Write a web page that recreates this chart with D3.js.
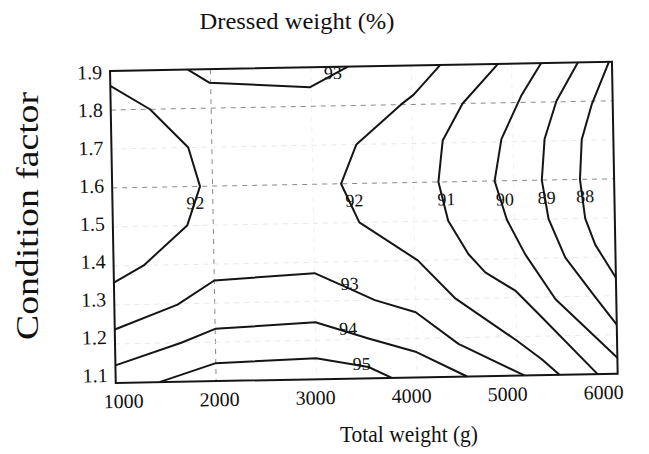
<!DOCTYPE html>
<html>
<head>
<meta charset="utf-8">
<script src="https://cdn.jsdelivr.net/npm/d3@7"></script>
<style>
  body { margin: 0; background: #fff; }
  text { font-family: "Liberation Serif", "Times New Roman", serif; fill: #111; }
</style>
</head>
<body>
<div id="chart"></div>
<script>
// axis ticks
var xTicks = [1000, 2000, 3000, 4000, 5000, 6000];
var yTicks = [1.1, 1.2, 1.3, 1.4, 1.5, 1.6, 1.7, 1.8, 1.9];
// grid lines that print dark in the figure (others are faint)
var gridDarkX = [2000];
var gridDarkY = [1.6, 1.8];

// contour lines [total weight, condition factor]
var c92left = [[1000, 1.862], [1390, 1.8], [1765, 1.7], [1875, 1.6], [1740, 1.5], [1300, 1.4], [1000, 1.357]];
var c92right = [[4290, 1.9], [4020, 1.825], [3890, 1.8], [3440, 1.7], [3280, 1.6], [3455, 1.5], [4030, 1.4],
  [4400, 1.3], [5000, 1.19], [5250, 1.14], [5420, 1.1]];
var c93top = [[1775, 1.9], [1990, 1.865], [2990, 1.849], [3370, 1.9]];
var c93 = [[1000, 1.237], [1630, 1.298], [2000, 1.358], [3000, 1.372], [3300, 1.336], [3595, 1.3],
  [4000, 1.267], [4420, 1.184], [5070, 1.1]];
var c94 = [[1000, 1.145], [1660, 1.2], [2000, 1.234], [3000, 1.246], [3525, 1.202], [4000, 1.165], [4500, 1.1]];
var c95 = [[1435, 1.1], [2000, 1.146], [3000, 1.154], [3520, 1.129], [3750, 1.1]];
var c91 = [[4865, 1.9], [4505, 1.8], [4300, 1.706], [4250, 1.6], [4340, 1.5], [4535, 1.414], [4700, 1.366],
  [5000, 1.317], [5260, 1.247], [5800, 1.1]];
var c90 = [[5295, 1.9], [5090, 1.817], [4885, 1.707], [4810, 1.6], [4925, 1.5], [5100, 1.411], [5395, 1.294],
  [6000, 1.141]];
var c89 = [[5660, 1.9], [5440, 1.802], [5315, 1.705], [5280, 1.6], [5340, 1.5], [5500, 1.4], [5795, 1.296],
  [6000, 1.226]];
var c88 = [[5970, 1.9], [5790, 1.791], [5685, 1.702], [5660, 1.6], [5705, 1.5], [5800, 1.432], [6000, 1.346]];
var contourLines = [c92left, c92right, c93top, c93, c94, c95, c91, c90, c89, c88];

// contour labels [level, total weight, condition factor]
var contourLabels = [[92, 1825, 1.558], [92, 3410, 1.557], [93, 3220, 1.885], [93, 3347, 1.344],
  [94, 3325, 1.229], [95, 3453, 1.138], [91, 4325, 1.556], [90, 4908, 1.553], [89, 5325, 1.555], [88, 5708, 1.557]];

var w = 649, h = 454;
var padLeft = 112.85, padTop = 66.35, pw = 502, ph = 312;

var svg = d3.select("#chart").append("svg")
  .attr("width", w)
  .attr("height", h);

var x = d3.scaleLinear().domain([1000, 6000]).range([0, pw]);
var y = d3.scaleLinear().domain([1.1, 1.9]).range([ph, 0]);
// tick labels in the print sit on a slightly narrower scale than the frame
var xLab = d3.scaleLinear().domain([1000, 6000]).range([7, 487]);
var yLab = d3.scaleLinear().domain([1.1, 1.9]).range([304, 1]);

// the printed figure is scanned slightly tilted
var g = svg.append("g")
  .attr("transform", "rotate(-1.05," + (padLeft + pw / 2) + "," + (padTop + ph / 2) + ") translate(" + padLeft + "," + padTop + ")");

// grid
g.selectAll(".gx")
  .data(xTicks.slice(1, -1))
  .enter().append("line")
  .attr("x1", function(d) { return x(d); })
  .attr("x2", function(d) { return x(d); })
  .attr("y1", 0)
  .attr("y2", ph)
  .style("stroke", function(d) { return gridDarkX.indexOf(d) >= 0 ? "#8a8a8a" : "#f0f0f0"; })
  .style("stroke-width", 1)
  .style("stroke-dasharray", "5,5");

g.selectAll(".gy")
  .data(yTicks.slice(1, -1))
  .enter().append("line")
  .attr("x1", 0)
  .attr("x2", pw)
  .attr("y1", function(d) { return y(d); })
  .attr("y2", function(d) { return y(d); })
  .style("stroke", function(d) { return gridDarkY.indexOf(d) >= 0 ? "#8a8a8a" : "#e8e8e8"; })
  .style("stroke-width", 1)
  .style("stroke-dasharray", "5,5");

// axes
var xaxis = d3.axisBottom(xLab)
  .tickValues(xTicks)
  .tickSize(0)
  .tickPadding(11)
  .tickFormat(d3.format("d"));

var yaxis = d3.axisLeft(yLab)
  .tickValues(yTicks)
  .tickSize(0)
  .tickPadding(8)
  .tickFormat(d3.format(".1f"));

var gx = g.append("g")
  .attr("transform", "translate(0," + ph + ")")
  .call(xaxis);
var gy = g.append("g").call(yaxis);

[gx, gy].forEach(function(a) {
  a.select(".domain").remove();
  a.attr("font-family", "'Liberation Serif', 'Times New Roman', serif");
  a.selectAll("text")
    .style("font-size", "20px")
    .style("fill", "#111");
});

// contours
var line = d3.line()
  .x(function(d) { return x(d[0]); })
  .y(function(d) { return y(d[1]); });

g.selectAll(".contour")
  .data(contourLines)
  .enter().append("path")
  .attr("class", "contour")
  .attr("d", line)
  .style("fill", "none")
  .style("stroke", "#151515")
  .style("stroke-width", 2)
  .style("stroke-linejoin", "round");

g.selectAll(".clabel")
  .data(contourLabels)
  .enter().append("text")
  .attr("x", function(d) { return x(d[1]); })
  .attr("y", function(d) { return y(d[2]); })
  .attr("text-anchor", "middle")
  .attr("dy", "0.35em")
  .style("font-size", "18px")
  .text(function(d) { return d[0]; });

// frame
g.append("rect")
  .attr("x", 0)
  .attr("y", 0)
  .attr("width", pw)
  .attr("height", ph)
  .style("fill", "none")
  .style("stroke", "#151515")
  .style("stroke-width", 2);

// titles
svg.append("text")
  .attr("x", 297)
  .attr("y", 29)
  .attr("text-anchor", "middle")
  .attr("textLength", 195)
  .attr("lengthAdjust", "spacingAndGlyphs")
  .style("font-size", "24px")
  .text("Dressed weight (%)");

svg.append("text")
  .attr("x", 409)
  .attr("y", 442)
  .attr("text-anchor", "middle")
  .attr("textLength", 138)
  .attr("lengthAdjust", "spacingAndGlyphs")
  .style("font-size", "23px")
  .text("Total weight (g)");

svg.append("text")
  .attr("transform", "translate(38,216) rotate(-90)")
  .attr("text-anchor", "middle")
  .attr("textLength", 248)
  .attr("lengthAdjust", "spacingAndGlyphs")
  .style("font-size", "31px")
  .text("Condition factor");
</script>
</body>
</html>
